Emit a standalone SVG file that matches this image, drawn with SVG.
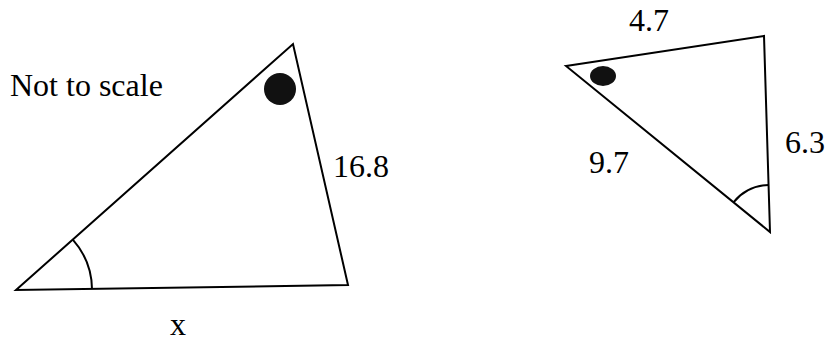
<svg xmlns="http://www.w3.org/2000/svg" width="826" height="343" viewBox="0 0 826 343">
<style>
.ln{fill:none;stroke:#000;stroke-width:2;stroke-linejoin:miter}
.arc{fill:none;stroke:#000;stroke-width:2}
.t{font-family:'Liberation Serif','Times New Roman','DejaVu Serif',serif;font-size:32px;fill:#000}
</style>
<rect width="826" height="343" fill="#fff"/>
<g id="triangle-left">
<polygon class="ln" points="16,290 293,44 348,285"/>
<circle cx="280" cy="89" r="16" fill="#111"/>
<path class="arc" d="M72.8,239.6 A76,76 0 0 1 92,289"/>
</g>
<g id="triangle-right">
<polygon class="ln" points="566,66 764,36 770,232"/>
<ellipse cx="603" cy="76" rx="13" ry="10" fill="#111"/>
<path class="arc" d="M733.5,202.3 A47,47 0 0 1 768.6,185"/>
</g>
<g id="labels">
<text class="t" x="10" y="96">Not to scale</text>
<text class="t" x="333" y="177">16.8</text>
<text class="t" x="170" y="335">x</text>
<text class="t" x="629" y="31">4.7</text>
<text class="t" x="785" y="153">6.3</text>
<text class="t" x="589" y="173">9.7</text>
</g>
</svg>
